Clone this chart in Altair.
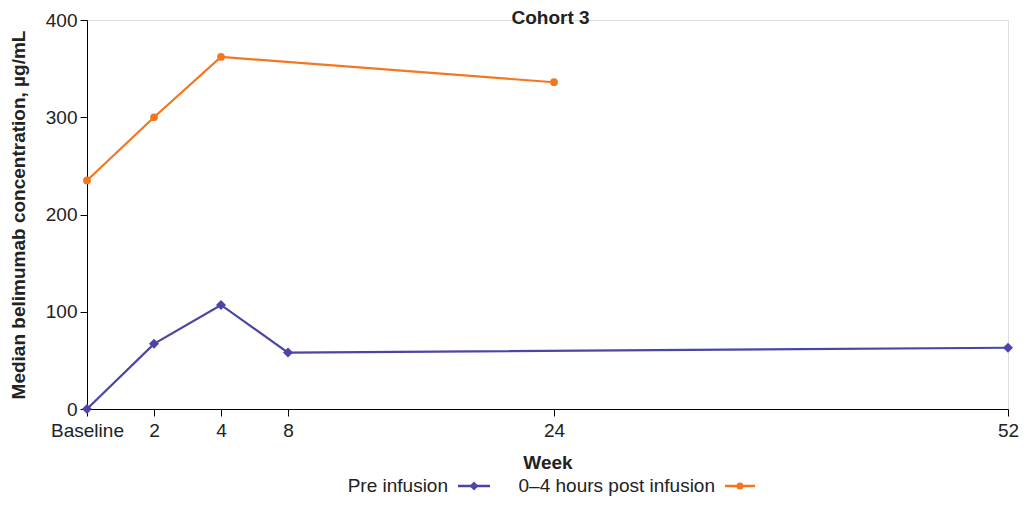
import altair as alt
import pandas as pd

weeks_pre = [0, 2, 4, 8, 52]
conc_pre = [0, 67, 107, 58, 63]
weeks_post = [0, 2, 4, 24]
conc_post = [235, 300, 362, 336]
tick_weeks = [0, 2, 4, 8, 24, 52]
y_ticks = [0, 100, 200, 300, 400]

BLUE = "#4b45a8"
ORANGE = "#f4761f"
FONT = "Liberation Sans"
FS = 19

pre_df = pd.DataFrame({"week": weeks_pre, "conc": conc_pre, "series": "Pre infusion"})
post_df = pd.DataFrame({"week": weeks_post, "conc": conc_post, "series": "0–4 hours post infusion"})

W, H = 921, 389

xscale = alt.Scale(domain=tick_weeks, range=[0, 67, 134, 201, 467, W])
yscale = alt.Scale(domain=[0, 400], nice=False)

xaxis = alt.Axis(values=tick_weeks, labelExpr="datum.value == 0 ? 'Baseline' : datum.label",
                 title="Week", grid=False, domainColor="black", tickColor="black",
                 tickSize=7, labelFontSize=FS, labelColor="#222", labelFont=FONT,
                 titleFont=FONT, titleFontSize=FS, titleFontWeight="bold", titleColor="#222",
                 labelPadding=5, titlePadding=13, labelFlush=False)
yaxis = alt.Axis(values=y_ticks, title="Median belimumab concentration, µg/mL", grid=False,
                 domainColor="black", tickColor="black", tickSize=7, labelFontSize=FS,
                 labelColor="#222", labelFont=FONT, titleFont=FONT, titleFontSize=FS,
                 titleFontWeight="bold", titleColor="#222", labelPadding=3, titlePadding=17)

def series_layers(df, color, shape, size):
    base = alt.Chart(df).encode(
        x=alt.X("week:Q", scale=xscale, axis=xaxis),
        y=alt.Y("conc:Q", scale=yscale, axis=yaxis),
    )
    line = base.mark_line(color=color, strokeWidth=2.2)
    pts = base.mark_point(color=color, shape=shape, filled=True, size=size, opacity=1)
    return [line, pts]

one = pd.DataFrame({"a": [0]})
ly = 466

def legend_item(label, x_label, x0, x1, color, shape, size):
    t = alt.Chart(one).mark_text(align="right", baseline="middle", fontSize=FS, font=FONT,
                                 color="#222").encode(
        x=alt.value(x_label), y=alt.value(ly), text=alt.value(label))
    r = alt.Chart(one).mark_rule(color=color, strokeWidth=2.5).encode(
        x=alt.value(x0), x2=alt.value(x1), y=alt.value(ly))
    p = alt.Chart(one).mark_point(color=color, shape=shape, filled=True, size=size,
                                  opacity=1).encode(
        x=alt.value((x0 + x1) / 2), y=alt.value(ly))
    return [t, r, p]

title = alt.Chart(one).mark_text(align="center", baseline="middle", fontSize=FS, font=FONT,
                                 fontWeight="bold", color="#222").encode(
    x=alt.value(W / 2 + 3), y=alt.value(-2), text=alt.value("Cohort 3"))

layers = (series_layers(pre_df, BLUE, "diamond", 100)
          + series_layers(post_df, ORANGE, "circle", 60)
          + legend_item("Pre infusion", 361, 371, 403, BLUE, "diamond", 80)
          + legend_item("0–4 hours post infusion", 628, 638, 668, ORANGE, "circle", 50)
          + [title])

chart = alt.layer(*layers).properties(
    width=W, height=H,
    autosize=alt.AutoSizeParams(type="none"),
    padding={"left": 79, "top": 12, "right": 11, "bottom": 88},
).configure_view(stroke=None).configure(background="white")

chart.save("out.html", embed_options={"renderer": "svg", "actions": False})
